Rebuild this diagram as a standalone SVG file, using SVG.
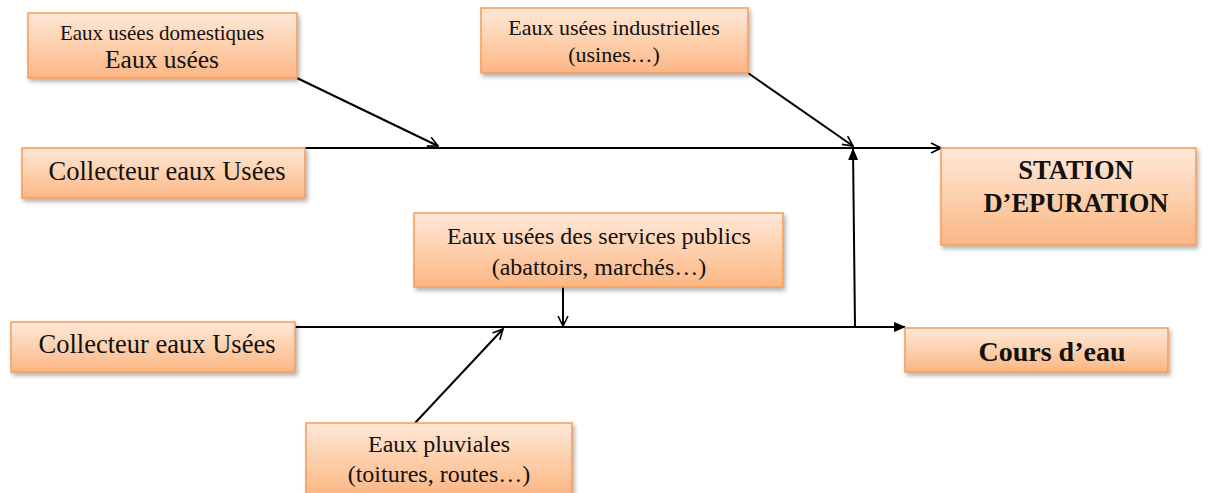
<svg xmlns="http://www.w3.org/2000/svg" width="1210" height="493" viewBox="0 0 1210 493">
<defs>
<linearGradient id="g" x1="0" y1="0" x2="0" y2="1">
<stop offset="0" stop-color="#fee8d8"/>
<stop offset="0.5" stop-color="#fdd0ad"/>
<stop offset="1" stop-color="#fbb684"/>
</linearGradient>
<filter id="sh" x="-10%" y="-10%" width="130%" height="140%">
<feDropShadow dx="2" dy="3" stdDeviation="2" flood-color="#000" flood-opacity="0.3"/>
</filter>
<marker id="open" viewBox="0 0 12 12" refX="11" refY="6" markerWidth="12" markerHeight="12" markerUnits="userSpaceOnUse" orient="auto">
<path d="M1,1 L11,6 L1,11" fill="none" stroke="#000" stroke-width="1.6"/>
</marker>
<marker id="fill" viewBox="0 0 12 12" refX="11" refY="6" markerWidth="12" markerHeight="12" markerUnits="userSpaceOnUse" orient="auto">
<path d="M0,1 L12,6 L0,11 Z" fill="#000"/>
</marker>
</defs>
<style>
.box{fill:url(#g);stroke:#f79a55;stroke-width:1.5;filter:url(#sh)}
text{font-family:"Liberation Serif","Times New Roman",serif;fill:#111;text-anchor:middle}
.c{fill:none;stroke:#000;stroke-width:2}
</style>
<rect width="1210" height="493" fill="#fff"/>
<g id="connectors">
<line class="c" x1="305" y1="148" x2="941" y2="148" marker-end="url(#open)"/>
<line class="c" x1="297" y1="78" x2="438" y2="146" marker-end="url(#open)"/>
<line class="c" x1="748" y1="73" x2="853" y2="146" marker-end="url(#open)"/>
<line class="c" x1="855" y1="327" x2="853" y2="149" marker-end="url(#fill)"/>
<line class="c" x1="295" y1="327" x2="905" y2="327" marker-end="url(#fill)"/>
<line class="c" x1="563" y1="287" x2="563" y2="326" marker-end="url(#open)"/>
<line class="c" x1="415" y1="423" x2="503" y2="329" marker-end="url(#open)"/>
</g>
<g id="n-domestiques">
<rect class="box" x="28" y="13" width="269" height="65"/>
<text x="162" y="40" font-size="21">Eaux usées domestiques</text>
<text x="162" y="68" font-size="25.5">Eaux usées</text>
</g>
<g id="n-industrielles">
<rect class="box" x="481" y="8" width="267" height="65"/>
<text x="614" y="35" font-size="22">Eaux usées industrielles</text>
<text x="614" y="62" font-size="22">(usines…)</text>
</g>
<g id="n-collecteur1">
<rect class="box" x="22" y="148" width="283" height="50"/>
<text x="167" y="180" font-size="26.5">Collecteur eaux Usées</text>
</g>
<g id="n-station">
<rect class="box" x="941" y="148" width="255" height="97"/>
<text x="1076" y="179" font-size="26.5" font-weight="bold">STATION</text>
<text x="1076" y="212" font-size="26.5" font-weight="bold">D’EPURATION</text>
</g>
<g id="n-services">
<rect class="box" x="414" y="213" width="369" height="74"/>
<text x="599" y="244" font-size="24">Eaux usées des services publics</text>
<text x="599" y="275" font-size="24">(abattoirs, marchés…)</text>
</g>
<g id="n-collecteur2">
<rect class="box" x="11" y="322" width="284" height="50"/>
<text x="157" y="353" font-size="26.5">Collecteur eaux Usées</text>
</g>
<g id="n-cours">
<rect class="box" x="905" y="328" width="263" height="44"/>
<text x="1052" y="361" font-size="28" font-weight="bold">Cours d’eau</text>
</g>
<g id="n-pluviales">
<rect class="box" x="306" y="423" width="266" height="72"/>
<text x="439" y="452" font-size="24">Eaux pluviales</text>
<text x="439" y="482" font-size="24">(toitures, routes…)</text>
</g>
</svg>
